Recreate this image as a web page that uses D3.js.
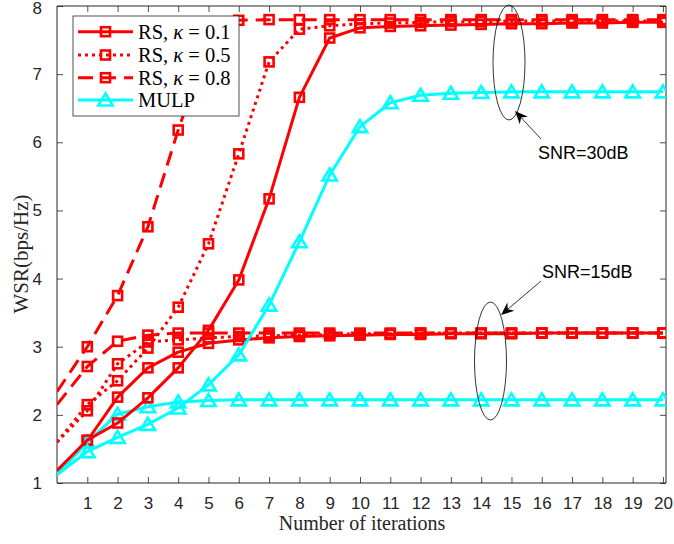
<!DOCTYPE html>
<html>
<head>
<meta charset="utf-8">
<script src="https://cdn.jsdelivr.net/npm/d3@7"></script>
<style>
  html, body { margin: 0; padding: 0; background: #fff; }
  svg { display: block; }
</style>
</head>
<body>
<svg id="chart" width="674" height="544"></svg>
<script>
// Iteration index (0 = initial point); markers from 1 to 20
const iterations = d3.range(0, 21);
const xTicks = d3.range(1, 21);
const yTicks = [1, 2, 3, 4, 5, 6, 7, 8];

// SNR = 30 dB
const rs01_30 = [1.18, 1.63, 1.88, 2.25, 2.69, 3.24, 3.98, 5.17, 6.66, 7.53, 7.68, 7.70, 7.71, 7.72, 7.73, 7.74, 7.74, 7.75, 7.75, 7.76, 7.76];
const rs05_30 = [1.60, 2.15, 2.50, 2.98, 3.58, 4.51, 5.83, 7.18, 7.66, 7.71, 7.74, 7.75, 7.76, 7.77, 7.77, 7.78, 7.78, 7.78, 7.78, 7.78, 7.78];
const rs08_30 = [2.34, 3.00, 3.75, 4.76, 6.18, 7.45, 7.79, 7.80, 7.80, 7.80, 7.80, 7.80, 7.80, 7.80, 7.80, 7.80, 7.80, 7.80, 7.80, 7.80, 7.80];
const mulp_30 = [1.12, 1.46, 1.67, 1.86, 2.10, 2.44, 2.88, 3.61, 4.54, 5.52, 6.23, 6.58, 6.69, 6.72, 6.73, 6.74, 6.74, 6.74, 6.74, 6.74, 6.74];

// SNR = 15 dB
const rs01_15 = [1.18, 1.62, 2.26, 2.69, 2.92, 3.05, 3.10, 3.13, 3.15, 3.16, 3.17, 3.18, 3.18, 3.19, 3.19, 3.19, 3.20, 3.20, 3.20, 3.20, 3.20];
const rs05_15 = [1.60, 2.06, 2.75, 3.07, 3.10, 3.13, 3.15, 3.16, 3.17, 3.18, 3.19, 3.19, 3.20, 3.20, 3.20, 3.20, 3.20, 3.20, 3.20, 3.20, 3.20];
const rs08_15 = [2.15, 2.71, 3.08, 3.17, 3.20, 3.20, 3.20, 3.20, 3.20, 3.20, 3.20, 3.20, 3.20, 3.20, 3.20, 3.20, 3.20, 3.20, 3.20, 3.20, 3.20];
const mulp_15 = [1.12, 1.60, 2.01, 2.12, 2.19, 2.21, 2.22, 2.22, 2.22, 2.22, 2.22, 2.22, 2.22, 2.22, 2.22, 2.22, 2.22, 2.22, 2.22, 2.22, 2.22];

const legendLabels = [
  ["RS, ", "κ", " = 0.1"],
  ["RS, ", "κ", " = 0.5"],
  ["RS, ", "κ", " = 0.8"],
  ["MULP", "", ""]
];

const RED = "#ff0000", CYAN = "#00ffff", AX = "#262626";
const styles = [
  { color: RED, dash: null, marker: "square" },
  { color: RED, dash: "3,4", marker: "square" },
  { color: RED, dash: "15,8", marker: "square" },
  { color: CYAN, dash: null, marker: "triangle" }
];

const series = [
  { values: rs01_15, style: 0 }, { values: rs05_15, style: 1 },
  { values: rs08_15, style: 2 }, { values: mulp_15, style: 3 },
  { values: rs01_30, style: 0 }, { values: rs05_30, style: 1 },
  { values: rs08_30, style: 2 }, { values: mulp_30, style: 3 }
];

const L = 57, R = 666, T = 6, B = 483;
const x = d3.scaleLinear().domain([0, 20.1]).range([L, R]);
const y = d3.scaleLinear().domain([1, 8]).range([B, T]);

const svg = d3.select("#chart");
svg.append("rect").attr("width", 674).attr("height", 544).attr("fill", "#fff");

svg.append("defs").append("clipPath").attr("id", "plotclip")
  .append("rect").attr("x", L).attr("y", T).attr("width", R - L).attr("height", B - T);

// Axes with inward ticks on all four sides
const tickFont = "'Liberation Sans', Arial, sans-serif";
const gx = svg.append("g").attr("transform", `translate(0,${B})`)
  .call(d3.axisBottom(x).tickValues(xTicks).tickSize(-6).tickPadding(14).tickFormat(d3.format("d")));
const gxt = svg.append("g").attr("transform", `translate(0,${T})`)
  .call(d3.axisTop(x).tickValues(xTicks).tickSize(-6).tickFormat(""));
const gy = svg.append("g").attr("transform", `translate(${L},0)`)
  .call(d3.axisLeft(y).tickValues(yTicks).tickSize(-6).tickPadding(15).tickFormat(d3.format("d")));
const gyr = svg.append("g").attr("transform", `translate(${R},0)`)
  .call(d3.axisRight(y).tickValues(yTicks).tickSize(-6).tickFormat(""));
[gx, gxt, gy, gyr].forEach(g => {
  g.selectAll(".domain").attr("stroke", AX).attr("stroke-width", 1);
  g.selectAll(".tick line").attr("stroke", AX).attr("stroke-width", 0.8);
  g.selectAll("text").attr("fill", AX).style("font-family", tickFont).style("font-size", "17px");
});
// keep the top label inside the page
gy.selectAll(".tick text").filter(d => d === 8).attr("dy", "0.38em").attr("y", 1);
gx.selectAll(".domain").attr("d", `M${L},0H${R}`);
gxt.selectAll(".domain").attr("d", `M${L},0H${R}`);
gy.selectAll(".domain").attr("d", `M0,${T}V${B}`);
gyr.selectAll(".domain").attr("d", `M0,${T}V${B}`);

// Curves
const plot = svg.append("g").attr("clip-path", "url(#plotclip)");
const line = d3.line().x((d, i) => x(iterations[i])).y(d => y(d));

function drawMarker(g, kind, cx, cy, color) {
  if (kind === "square") {
    g.append("rect").attr("x", cx - 4.5).attr("y", cy - 4.5).attr("width", 9).attr("height", 9)
      .attr("fill", "none").attr("stroke", color).attr("stroke-width", 2.6);
  } else {
    g.append("path").attr("d", `M${cx},${cy - 6.5}L${cx + 7.2},${cy + 5.5}L${cx - 7.2},${cy + 5.5}Z`)
      .attr("fill", "none").attr("stroke", color).attr("stroke-width", 2.6).attr("stroke-linejoin", "miter");
  }
}

series.forEach(s => {
  const st = styles[s.style];
  const g = plot.append("g");
  g.append("path").datum(s.values).attr("d", line)
    .attr("fill", "none").attr("stroke", st.color).attr("stroke-width", 3)
    .attr("stroke-dasharray", st.dash).attr("stroke-linejoin", "round");
  s.values.forEach((v, i) => {
    if (iterations[i] >= 1) drawMarker(g, st.marker, x(iterations[i]), y(v), st.color);
  });
});

// Axis titles
const serif = "'Liberation Serif', 'Times New Roman', serif";
svg.append("text").attr("x", 362).attr("y", 530).attr("text-anchor", "middle")
  .style("font-family", serif).style("font-size", "20px").attr("fill", AX).text("Number of iterations");
svg.append("text").attr("transform", `translate(28,${254}) rotate(-90)`).attr("text-anchor", "middle")
  .style("font-family", serif).style("font-size", "21px").attr("fill", AX).text("WSR(bps/Hz)");

// Annotations: ellipses grouping the curves at each SNR, with arrows
const ann = svg.append("g");
ann.append("ellipse").attr("cx", 509).attr("cy", 62.5).attr("rx", 16).attr("ry", 57.5)
  .attr("fill", "none").attr("stroke", "#000").attr("stroke-width", 0.8);
ann.append("ellipse").attr("cx", 490.5).attr("cy", 361).attr("rx", 16).attr("ry", 59)
  .attr("fill", "none").attr("stroke", "#000").attr("stroke-width", 0.8);

function arrow(x0, y0, x1, y1) {
  const a = Math.atan2(y1 - y0, x1 - x0);
  const len = 13, w = 5.5, back = 9;
  const bx = x1 - len * Math.cos(a), by = y1 - len * Math.sin(a);
  const nx = -Math.sin(a), ny = Math.cos(a);
  const ix = x1 - back * Math.cos(a), iy = y1 - back * Math.sin(a);
  ann.append("line").attr("x1", x0).attr("y1", y0).attr("x2", ix).attr("y2", iy)
    .attr("stroke", "#000").attr("stroke-width", 0.8);
  ann.append("path")
    .attr("d", `M${x1},${y1}L${bx + nx * w},${by + ny * w}L${ix},${iy}L${bx - nx * w},${by - ny * w}Z`)
    .attr("fill", "#000");
}
arrow(541, 139, 515, 111);
arrow(541, 281, 501, 315);

const sans = "'Liberation Sans', Arial, sans-serif";
ann.append("text").attr("x", 538).attr("y", 158.5).style("font-family", sans).style("font-size", "18px")
  .attr("fill", "#000").text("SNR=30dB");
ann.append("text").attr("x", 542).attr("y", 278).style("font-family", sans).style("font-size", "18px")
  .attr("fill", "#000").text("SNR=15dB");

// Legend
const lg = svg.append("g");
lg.append("rect").attr("x", 73).attr("y", 16).attr("width", 166).attr("height", 100)
  .attr("fill", "#fff").attr("stroke", AX).attr("stroke-width", 0.8);
const rowY = [31.7, 55, 77.7, 100];
legendLabels.forEach((lab, i) => {
  const st = styles[i];
  const yy = rowY[i];
  lg.append("line").attr("x1", 78).attr("x2", 133).attr("y1", yy).attr("y2", yy)
    .attr("stroke", st.color).attr("stroke-width", 3).attr("stroke-dasharray", st.dash);
  drawMarker(lg, st.marker, 105.5, yy, st.color);
  const t = lg.append("text").attr("x", 138).attr("y", yy + 7)
    .style("font-family", serif).style("font-size", "20.5px").attr("fill", "#000");
  t.append("tspan").text(lab[0]);
  if (lab[1]) t.append("tspan").style("font-style", "italic").text(lab[1]);
  if (lab[2]) t.append("tspan").text(lab[2]);
});
</script>
</body>
</html>
